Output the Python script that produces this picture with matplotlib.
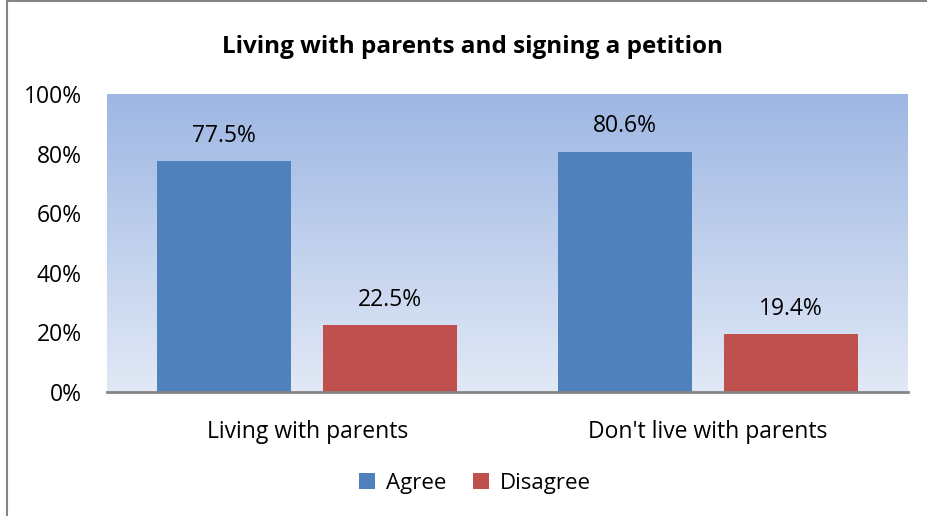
import numpy as np
import matplotlib.pyplot as plt
from matplotlib.patches import Rectangle

categories = ["Living with parents", "Don't live with parents"]
agree = [77.5, 80.6]
disagree = [22.5, 19.4]
series_names = ["Agree", "Disagree"]
yticks = [0, 20, 40, 60, 80, 100]

plt.rcParams['font.family'] = ['Open Sans', 'DejaVu Sans']

fig = plt.figure(figsize=(9.28, 5.16), dpi=100)
ax = fig.add_axes([107/928, 1 - 392/516, 801/928, 298/516])

# gradient background like the Excel plot area
top = np.array([158, 183, 227]) / 255
bot = np.array([226, 233, 246]) / 255
t = np.linspace(0, 1, 256)[:, None]
grad = (top * (1 - t) + bot * t)[:, None, :]
ax.imshow(grad, extent=[-0.5, 1.5, 0, 100], aspect='auto', zorder=0)

x = np.arange(len(categories))
w = 0.335
off = 0.2075
b1 = ax.bar(x - off, agree, w, color='#4F81BD', label=series_names[0], zorder=2)
b2 = ax.bar(x + off, disagree, w, color='#C0504D', label=series_names[1], zorder=2)

for bars, vals in ((b1, agree), (b2, disagree)):
    for b, v in zip(bars, vals):
        ax.text(b.get_x() + b.get_width() / 2, v + 4.5, f"{v:.1f}%",
                ha='center', va='bottom', fontsize=16.5)

ax.set_xlim(-0.5, 1.5)
ax.set_ylim(0, 100)
ax.set_yticks(yticks)
ax.set_yticklabels([f"{v}%" for v in yticks], fontsize=16.5)
ax.set_xticks(x)
ax.set_xticklabels(categories, fontsize=16.5)
ax.tick_params(axis='x', length=0, pad=20)
ax.tick_params(axis='y', length=0, pad=18)
for s in ['top', 'right', 'left']:
    ax.spines[s].set_visible(False)
ax.spines['bottom'].set_color('#868686')
ax.spines['bottom'].set_linewidth(2)

fig.text(473/928, 1 - 47/516, "Living with parents and signing a petition",
         ha='center', va='center', fontsize=17.5, fontweight='bold')

fig.legend(handles=[b1, b2], labels=series_names, loc='center',
           bbox_to_anchor=(475/928, 1 - 483/516), ncol=2, frameon=False,
           fontsize=16, handlelength=0.7, handleheight=0.7,
           columnspacing=1.2, handletextpad=0.5)

# outer chart border
fig.patches.append(Rectangle((7/928, -0.1), 1.2, 1.1 - 1/516, transform=fig.transFigure,
                             fill=False, edgecolor='#868686', linewidth=1.5))

fig.savefig('out.png', dpi=100)
